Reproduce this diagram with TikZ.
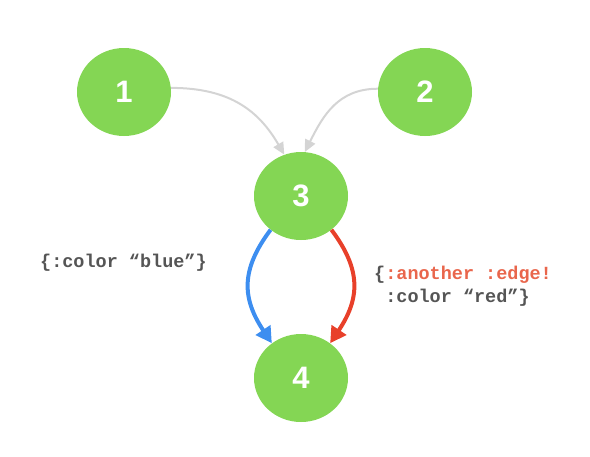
\documentclass[tikz,border=0pt]{standalone}
\usepackage{fontspec}
\setmainfont{Liberation Sans}
\newfontfamily\codefont{Liberation Mono}
\usetikzlibrary{arrows.meta,shapes.geometric}
\definecolor{nodegreen}{HTML}{84D654}
\definecolor{edgegray}{HTML}{D4D4D4}
\definecolor{edgeblue}{HTML}{3D8EF0}
\definecolor{edgered}{HTML}{E8402A}
\definecolor{labelred}{HTML}{E9664C}
\definecolor{labelgray}{HTML}{555555}
\tikzset{
  gnode/.style={ellipse, fill=nodegreen, minimum width=94pt, minimum height=88pt, inner sep=0pt,
    text=white, font=\fontsize{31}{31}\selectfont\bfseries},
  grayedge/.style={draw=edgegray, line width=2pt, -{Triangle[length=12pt,width=11pt]}},
  thickedge/.style={line width=4pt},
  codelabel/.style={text=labelgray, font=\codefont\bfseries\fontsize{18.5}{23}\selectfont, inner sep=0pt, align=left}
}
\begin{document}
\begin{tikzpicture}[x=1pt,y=-1pt]
\useasboundingbox (0,0) rectangle (590,456);
\node[gnode] (n1) at (124,92) {1};
\node[gnode] (n2) at (425,92) {2};
\node[gnode] (n3) at (301,196) {3};
\node[gnode] (n4) at (301,378) {4};
\draw[grayedge] (n1.5) .. controls +(60,0) and +(-25,-43) .. (n3.112);
\draw[grayedge] (n2.176) .. controls +(-40,0) and +(18,-36) .. (n3.85);
\draw[thickedge, draw=edgeblue, -{Triangle[length=16pt,width=17pt,fill=edgeblue]}] (n3.228) .. controls +(-30,40) and +(-30,-45) .. (n4.130);
\draw[thickedge, draw=edgered, -{Triangle[length=16pt,width=17pt,fill=edgered]}] (n3.312) .. controls +(30,40) and +(30,-45) .. (n4.50);
\node[codelabel, anchor=west] (lblue) at (40,263) {\{:color “blue”\}};
\node[codelabel, anchor=north west] (lred) at (374,266) {\{\textcolor{labelred}{:another :edge!}\\\phantom{\{}:color “red”\}};
\end{tikzpicture}
\end{document}
